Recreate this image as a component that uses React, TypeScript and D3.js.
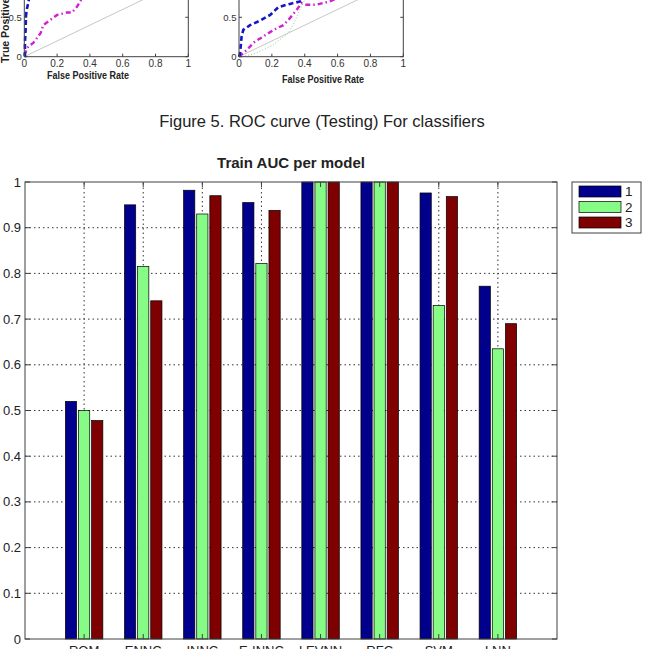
import * as d3 from 'd3';
import { useEffect } from 'react';

// bar chart data
const models = ['ROM', 'ENNC', 'INNC', 'E-INNC', 'LEVNN', 'RFC', 'SVM', 'LNN'];
const auc1 = [0.52, 0.95, 0.982, 0.955, 1, 1, 0.976, 0.772];
const auc2 = [0.5, 0.815, 0.93, 0.822, 1, 1, 0.73, 0.635];
const auc3 = [0.478, 0.74, 0.97, 0.938, 1, 1, 0.968, 0.69];
const seriesNames = ['1', '2', '3'];
const seriesColors = ['#00008c', '#86fb86', '#7e0000'];
const yTicks = [0, 0.1, 0.2, 0.3, 0.4, 0.5, 0.6, 0.7, 0.8, 0.9, 1];

// ROC fragments at the top (cropped figure above)
const rocTicks = [0, 0.2, 0.4, 0.6, 0.8, 1];
const rocLeftBlue: [number, number][] = [[0, 0], [0.004, 0.01], [0.004, 0.18], [0.008, 0.34], [0.01, 0.51], [0.014, 0.59], [0.024, 0.68], [0.03, 0.75], [0.04, 0.85]];
const rocLeftMagenta: [number, number][] = [[0, 0.02], [0.024, 0.13], [0.055, 0.175], [0.1, 0.3], [0.115, 0.4], [0.2, 0.53], [0.26, 0.56], [0.29, 0.56], [0.32, 0.63], [0.34, 0.7], [0.37, 0.8]];
const rocRightBlue: [number, number][] = [[0, 0], [0.006, 0.03], [0.016, 0.26], [0.026, 0.34], [0.067, 0.4], [0.13, 0.46], [0.19, 0.53], [0.24, 0.63], [0.31, 0.67], [0.37, 0.7], [0.4, 0.74], [0.43, 0.8]];
const rocRightMagenta: [number, number][] = [[0, 0], [0.05, 0.09], [0.09, 0.18], [0.15, 0.26], [0.21, 0.34], [0.27, 0.4], [0.31, 0.49], [0.35, 0.59], [0.38, 0.68], [0.41, 0.66], [0.47, 0.66], [0.55, 0.7], [0.62, 0.76]];
const rocRightGreen: [number, number][] = [[0.02, 0], [0.1, 0.04], [0.2, 0.14], [0.3, 0.3], [0.33, 0.4], [0.36, 0.55], [0.4, 0.72], [0.42, 0.8]];

const FONT = "'Liberation Sans', Arial, sans-serif";
const FRAME = '#404040';

const RocPanel = ({ left, right, blue, magenta, green, labelX, labelY, yLabel }: any) => {
    const x = d3.scaleLinear().domain([0, 1]).range([left, right]);
    const y = d3.scaleLinear().domain([0, 1]).range([56.7, -22.1]);
    const line = d3.line<[number, number]>().x((d) => x(d[0])).y((d) => y(d[1]));
    return (
        <g>
            <line x1={x(0)} y1={y(0)} x2={x(1)} y2={y(1)} stroke="#b8b8b8" strokeWidth={0.8} />
            {green && <path d={line(green) || ''} fill="none" stroke="#8fcf8f" strokeWidth={1} strokeDasharray="1,2" />}
            <path d={line(magenta) || ''} fill="none" stroke="#d21fd2" strokeWidth={2.4} strokeDasharray="5,3,1.5,3" />
            <path d={line(blue) || ''} fill="none" stroke="#1616c8" strokeWidth={2.6} strokeDasharray="5,3" />
            <path d={`M${x(0)},-5V${y(0)}H${x(1)}V-5`} fill="none" stroke={FRAME} strokeWidth={1} />
            {rocTicks.map((t) => (
                <g key={t}>
                    <line x1={x(t)} x2={x(t)} y1={y(0)} y2={y(0) - 3} stroke={FRAME} />
                    <text x={x(t)} y={y(0) + 10.5} fontSize={10} textAnchor="middle" fill="#333" fontFamily={FONT}>{t}</text>
                </g>
            ))}
            {[0, 0.5].map((t) => (
                <g key={t}>
                    <line x1={x(0)} x2={x(0) + 3} y1={y(t)} y2={y(t)} stroke={FRAME} />
                    <line x1={x(1)} x2={x(1) - 3} y1={y(t)} y2={y(t)} stroke={FRAME} />
                    <text x={x(0) - 2.5} y={y(t) + 3.5} fontSize={9.5} textAnchor="end" fill="#333" fontFamily={FONT}>{t}</text>
                </g>
            ))}
            <text x={labelX} y={labelY} fontSize={10.5} fontWeight="bold" textAnchor="middle" fill="#222" fontFamily={FONT}
                textLength={82} lengthAdjust="spacingAndGlyphs">False Positive Rate</text>
            {yLabel && (
                <text transform="translate(8.5,63) rotate(-90)" fontSize={10.5} fontWeight="bold" fill="#222" fontFamily={FONT}>True Positive Rate</text>
            )}
        </g>
    );
};

const App = () => {
    useEffect(() => {
        document.body.style.margin = '0';
    }, []);

    const W = 651;
    const H = 649;
    const x = d3.scaleLinear().domain([0, 9]).range([25, 557]);
    const y = d3.scaleLinear().domain([0, 1]).range([639, 182]);
    const offsets = [-0.222, 0, 0.222];
    const bw = x(0.19) - x(0);
    const series = [auc1, auc2, auc3];

    return (
        <svg width={W} height={H} style={{ display: 'block', background: '#fff' }}>
            <RocPanel left={24.3} right={188.3} blue={rocLeftBlue} magenta={rocLeftMagenta} labelX={88} labelY={79} yLabel />
            <RocPanel left={239} right={403.3} blue={rocRightBlue} magenta={rocRightMagenta} green={rocRightGreen} labelX={323} labelY={83} />

            <text x={322} y={127} fontSize={16.5} textAnchor="middle" fill="#222" fontFamily={FONT}>
                Figure 5. ROC curve (Testing) For classifiers
            </text>

            <text x={291} y={168} fontSize={15} fontWeight="bold" textAnchor="middle" fill="#222" fontFamily={FONT}>
                Train AUC per model
            </text>

            {/* grid */}
            {yTicks.slice(1, -1).map((t) => (
                <line key={t} x1={x(0)} x2={x(9)} y1={y(t)} y2={y(t)} stroke="#333" strokeWidth={1} strokeDasharray="1.5,3" />
            ))}
            {models.map((m, i) => (
                <line key={m} x1={x(i + 1)} x2={x(i + 1)} y1={y(0)} y2={y(1)} stroke="#333" strokeWidth={1} strokeDasharray="1.5,3" />
            ))}

            {/* bars */}
            {series.map((vals, s) =>
                vals.map((v, i) => (
                    <rect
                        key={`${s}-${i}`}
                        x={x(i + 1 + offsets[s]) - bw / 2}
                        y={y(v)}
                        width={bw}
                        height={y(0) - y(v)}
                        fill={seriesColors[s]}
                        stroke="#000"
                        strokeWidth={0.7}
                    />
                ))
            )}

            {/* frame + ticks */}
            <rect x={x(0)} y={y(1)} width={x(9) - x(0)} height={y(0) - y(1)} fill="none" stroke={FRAME} strokeWidth={1} />
            {yTicks.map((t) => (
                <g key={t}>
                    <line x1={x(0)} x2={x(0) + 5} y1={y(t)} y2={y(t)} stroke={FRAME} />
                    <line x1={x(9)} x2={x(9) - 5} y1={y(t)} y2={y(t)} stroke={FRAME} />
                    <text x={x(0) - 4} y={y(t) + 4.5} fontSize={13} textAnchor="end" fill="#222" fontFamily={FONT}>{t}</text>
                </g>
            ))}
            {models.map((m, i) => (
                <g key={m}>
                    <line x1={x(i + 1)} x2={x(i + 1)} y1={y(0)} y2={y(0) - 5} stroke={FRAME} />
                    <line x1={x(i + 1)} x2={x(i + 1)} y1={y(1)} y2={y(1) + 5} stroke={FRAME} />
                    <text x={x(i + 1)} y={y(0) + 15.5} fontSize={13} textAnchor="middle" fill="#222" fontFamily={FONT}>{m}</text>
                </g>
            ))}

            {/* legend */}
            <rect x={572} y={182} width={69} height={51} fill="#fff" stroke={FRAME} strokeWidth={1} />
            {seriesNames.map((n, s) => (
                <g key={n}>
                    <rect x={579} y={186 + s * 15.5} width={42} height={11} fill={seriesColors[s]} stroke="#000" strokeWidth={0.7} />
                    <text x={625} y={196 + s * 15.5} fontSize={13.5} fill="#222" fontFamily={FONT}>{n}</text>
                </g>
            ))}
        </svg>
    );
};

export default App;
